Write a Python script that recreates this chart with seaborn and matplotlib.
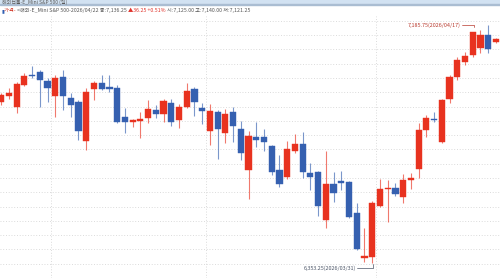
import matplotlib
matplotlib.use("Agg")
import matplotlib.pyplot as plt
from matplotlib.patches import Rectangle
import seaborn as sns
import numpy as np
import pandas as pd

# ---- data (daily candles, E-Mini S&P 500) ----
opens = [6917.25, 6938.25, 6899.75, 6975.75, 7010.75, 7020.25, 6990.75, 6937.25, 7002.75, 6931.25,
         6917.25, 6780.75, 6960.75, 6983.75, 6969.75, 6964.25, 6862.75, 6847.25, 6849.75, 6860.25,
         6888.25, 6874.25, 6913.75, 6853.25, 6899.75, 6961.75, 6896.25, 6815.75, 6880.25, 6808.75,
         6880.25, 6820.75, 6678.25, 6794.75, 6792.75, 6762.25, 6678.25, 6652.75, 6745.75, 6769.25,
         6666.75, 6671.25, 6502.25, 6628.25, 6640.75, 6635.25, 6526.75, 6369.25, 6372.75, 6552.25,
         6610.75, 6614.25, 6584.75, 6643.25, 6680.75, 6818.25, 6856.75, 6777.25, 6925.75, 7004.75,
         7057.25, 7080.75, 7104.25, 7150.75, 7125.00]
highs = [6947.75, 6965.25, 6986.25, 7017.75, 7042.25, 7028.25, 7000.25, 7010.75, 7028.25, 6947.75,
         6923.25, 6965.25, 6989.75, 7010.75, 7010.75, 6975.75, 6895.25, 6856.75, 6882.25, 6923.25,
         6905.75, 6926.75, 6926.75, 6909.25, 6981.75, 6967.75, 6911.75, 6908.25, 6888.25, 6890.75,
         6897.75, 6849.75, 6815.75, 6847.25, 6820.00, 6765.75, 6730.75, 6779.75, 6804.25, 6809.50,
         6702.75, 6674.75, 6744.75, 6672.25, 6675.75, 6639.75, 6561.75, 6474.25, 6569.75, 6645.75,
         6643.25, 6633.75, 6664.25, 6666.75, 6841.75, 6870.75, 6882.25, 6926.75, 7010.75, 7074.75,
         7092.25, 7162.25, 7168.25, 7185.75, 7140.00]
lows = [6905.75, 6926.75, 6877.75, 6972.25, 7000.25, 6899.75, 6917.25, 6864.75, 6888.25, 6864.75,
        6783.25, 6748.25, 6923.25, 6958.25, 6952.25, 6842.75, 6806.75, 6829.75, 6790.25, 6843.75,
        6860.25, 6847.25, 6832.25, 6824.25, 6895.25, 6867.25, 6839.25, 6765.75, 6715.75, 6771.75,
        6777.25, 6713.25, 6576.75, 6759.75, 6745.75, 6660.75, 6619.75, 6646.75, 6736.75, 6650.25,
        6608.25, 6517.25, 6474.25, 6567.25, 6608.25, 6509.25, 6398.25, 6355.00, 6353.25, 6548.75,
        6497.25, 6587.25, 6561.75, 6610.75, 6649.25, 6792.75, 6847.25, 6772.75, 6911.75, 6993.25,
        7045.75, 7074.75, 7086.75, 7086.75, 7121.25]
closes = [6940.75, 6946.75, 6979.25, 7008.25, 7005.50, 6993.25, 6966.25, 7001.25, 6937.25, 6905.75,
          6815.75, 6952.25, 6983.75, 6960.75, 6960.75, 6847.25, 6847.25, 6853.25, 6856.75, 6891.75,
          6874.25, 6920.75, 6847.25, 6899.75, 6955.75, 6917.25, 6885.75, 6884.75, 6820.75, 6874.25,
          6832.25, 6738.75, 6797.25, 6783.25, 6774.50, 6671.25, 6629.25, 6750.75, 6769.25, 6671.25,
          6654.75, 6551.25, 6628.25, 6598.75, 6633.75, 6514.75, 6400.75, 6377.25, 6563.75, 6610.75,
          6614.25, 6594.25, 6643.25, 6649.25, 6818.25, 6859.25, 6851.50, 6923.25, 7004.75, 7063.25,
          7077.25, 7162.25, 7150.75, 7100.00, 7136.25]
month_breaks = [7.5, 27.5, 49.5]
grid_levels = list(range(6350, 7201, 50))

title_text = "해외선물-E_Mini S&P 500 (일)"
info_parts = [("▮", "#2f5fb3"), ("가격- ", "#d23a2a"),
              ("<해외-E_Mini S&P 500-2026/04/22 종:7,136.25 ", "#555555"),
              ("▲36.25 +0.51% ", "#e0322a"),
              ("시:7,125.00 고:7,140.00 저:7,121.25", "#555555")]
hi_label = "7,185.75(2026/04/17)"
hi_idx, hi_val = 62, 7185.75
lo_label = "6,353.25(2026/03/31)"
lo_idx, lo_val = 49, 6353.25

df = pd.DataFrame({"idx": np.arange(1, len(opens) + 1), "open": opens, "high": highs,
                   "low": lows, "close": closes})
df["up"] = df["close"] >= df["open"]

sns.set_theme(style="white")
plt.rcParams['font.family'] = ['Noto Sans CJK KR', 'DejaVu Sans']

RED = "#e8321f"
BLUE = "#3560b0"

W, H = 500, 278
fig = plt.figure(figsize=(W / 100, H / 100), dpi=100)
fig.patch.set_facecolor("white")
top_px = 16
ax = fig.add_axes([0, 0, 1, (H - top_px) / H])
ax.set_facecolor("white")

# scale: price = 7273.25 - 3.5 * y_px ; idx = 1 + (x_px - 1.2) / 7.73
PX_Y = 3.5
PX_X = 1 / 7.73
ax.set_ylim(7273.25 - PX_Y * H, 7273.25 - PX_Y * top_px)
ax.set_xlim(0.845, 65.53)

for g in grid_levels:
    ax.axhline(g, color="#cfcfcf", lw=0.55, ls=(0, (1.2, 2.4)), zorder=0)
for m in month_breaks:
    ax.axvline(m, color="#cfcfcf", lw=0.55, ls=(0, (1.2, 2.4)), zorder=0)

colors = np.where(df["up"], RED, BLUE)
ax.vlines(df["idx"], df["low"], df["high"], colors=colors, lw=0.8, alpha=0.65, zorder=2)
body_low = np.minimum(df["open"], df["close"])
body_h = np.maximum(np.abs(df["close"] - df["open"]), 4.5)
ax.bar(df["idx"], body_h, bottom=body_low, width=0.8, color=colors,
       edgecolor=colors, linewidth=0.3, zorder=3)

for s in ax.spines.values():
    s.set_visible(False)
ax.set_xticks([])
ax.set_yticks([])

# annotations (high / low) with leader lines
HI_C = "#b8382c"
LO_C = "#4a5466"
hx0 = hi_idx - 11 * PX_X
hx1 = hi_idx + 0.15
ax.plot([hx0, hx1, hx1], [hi_val, hi_val, hi_val - 2.5 * PX_Y], color=HI_C, lw=0.5, zorder=4)
ax.text(hx0 - 1 * PX_X, hi_val, hi_label, ha="right", va="center", fontsize=3.9, color=HI_C)

ly = lo_val - 5 * PX_Y
lx0 = lo_idx - 15 * PX_X
lx1 = lo_idx + 0.1
ax.plot([lx0, lx1, lx1], [ly, ly, lo_val - 1.5 * PX_Y], color=LO_C, lw=0.5, zorder=4)
ax.text(lx0 - 1 * PX_X, ly, lo_label, ha="right", va="center", fontsize=3.9, color=LO_C)

# header band
fig.patches.append(Rectangle((0, 1 - 4 / H), 1, 4 / H, transform=fig.transFigure,
                             color="#d2e2f2", zorder=0))
fig.patches.append(Rectangle((0, 1 - 5.3 / H), 1, 1.3 / H, transform=fig.transFigure,
                             color="#aabdd2", zorder=0))
fig.text(2 / W, 1 - 2.3 / H, title_text, fontsize=3.6, color="#5a5a5a", va="center", ha="left")

fig.canvas.draw()
renderer = fig.canvas.get_renderer()
xpos = 1.5
for txt, col in info_parts:
    t = fig.text(xpos / W, 1 - 10.5 / H, txt, fontsize=3.8, color=col, va="center", ha="left")
    bb = t.get_window_extent(renderer=renderer)
    xpos += bb.width

fig.savefig("out.png", dpi=100, facecolor="white")
